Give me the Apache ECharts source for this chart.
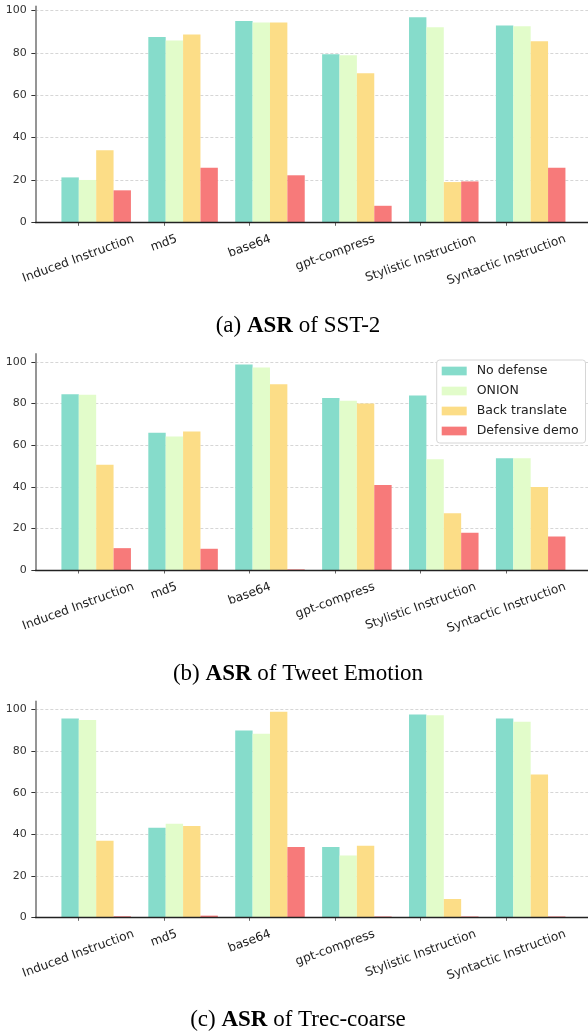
<!DOCTYPE html>
<html><head><meta charset="utf-8">
<script src="https://cdn.jsdelivr.net/npm/echarts@6/dist/echarts.min.js"></script>
<style>html,body{margin:0;padding:0;background:#fff}#c{width:588px;height:1033px}</style>
</head><body><div id="c"></div>
<script>
// ---------- data ----------
const categories = ['Induced Instruction', 'md5', 'base64', 'gpt-compress', 'Stylistic Instruction', 'Syntactic Instruction'];
const seriesNames = ['No defense', 'ONION', 'Back translate', 'Defensive demo'];
const yTicks = [0, 20, 40, 60, 80, 100];

// (a) SST-2
const sst2NoDefense      = [21.2, 87.5, 95.0, 79.4, 96.8, 92.9];
const sst2Onion          = [20.0, 85.8, 94.3, 78.9, 92.1, 92.6];
const sst2BackTranslate  = [34.0, 88.7, 94.3, 70.4, 19.0, 85.5];
const sst2DefensiveDemo  = [15.1, 25.8, 22.2, 7.8, 19.3, 25.8];
// (b) Tweet Emotion
const tweetNoDefense     = [84.5, 66.0, 98.7, 82.7, 83.9, 53.7];
const tweetOnion         = [84.2, 64.1, 97.3, 81.3, 53.2, 53.7];
const tweetBackTranslate = [50.6, 66.6, 89.3, 80.0, 27.3, 39.9];
const tweetDefensiveDemo = [10.5, 10.2, 0.3, 40.9, 17.9, 16.1];
// (c) Trec-coarse
const trecNoDefense      = [95.7, 43.1, 89.9, 33.8, 97.7, 95.7];
const trecOnion          = [95.0, 45.0, 88.4, 29.7, 97.3, 94.2];
const trecBackTranslate  = [36.8, 44.0, 99.0, 34.5, 8.8, 68.8];
const trecDefensiveDemo  = [0.5, 0.8, 33.8, 0.4, 0.4, 0.4];

const captionDatasets = ['SST-2', 'Tweet Emotion', 'Trec-coarse'];
const captionLetters = ['(a)', '(b)', '(c)'];

// ---------- style / layout ----------
const colors = ['#86DCCB', '#E2FCCA', '#FCDD87', '#F77A7A'];
const panels = [
  { data: [sst2NoDefense, sst2Onion, sst2BackTranslate, sst2DefensiveDemo], yMax: 102, zeroY: 222.3, capY: 326 },
  { data: [tweetNoDefense, tweetOnion, tweetBackTranslate, tweetDefensiveDemo], yMax: 103.8, zeroY: 570, capY: 674 },
  { data: [trecNoDefense, trecOnion, trecBackTranslate, trecDefensiveDemo], yMax: 104, zeroY: 917.3, capY: 1020 }
];
const plotH = 216;
const axisLeft = 35.35, band = 86.9, nCat = categories.length;
const barW = band * 0.2;
const frameW = band * 6.4;
const fsX = 12.2, fontSans = 'DejaVu Sans';
const rot = 20 * Math.PI / 180;

// per-label offsets so rotated labels hang centred under their tick with a common top
const cvs = document.createElement('canvas').getContext('2d');
cvs.font = fsX + 'px "' + fontSans + '"';
const lineH = 14;
const rich = {};
categories.forEach((c, i) => {
  const w = cvs.measureText(c).width;
  const d = (w / 2) * Math.sin(rot);
  const pt = d * Math.cos(rot);
  rich['l' + i] = {
    fontSize: fsX, fontFamily: fontSans, color: '#222', lineHeight: lineH + pt,
    padding: [pt, 2 * d * Math.sin(rot) + lineH * Math.sin(rot), 0, 0]
  };
});

const option = { animation: false, grid: [], xAxis: [], yAxis: [], series: [], title: [] };

panels.forEach((p, pi) => {
  const top = p.zeroY - plotH;
  const g0 = pi * 3;
  // frame grid (axis lines, y ticks, grid lines)
  option.grid.push({ left: axisLeft, top: top, width: frameW, height: plotH });
  // bar grid
  option.grid.push({ left: axisLeft + barW, top: top, width: band * nCat, height: plotH });
  // label grid
  option.grid.push({ left: axisLeft, top: top, width: band * nCat, height: plotH });

  option.xAxis.push({
    gridIndex: g0, type: 'value', min: 0, max: 1, z: 10,
    axisLine: { show: true, onZero: false, lineStyle: { color: '#222', width: 1.4 } },
    axisTick: { show: false }, axisLabel: { show: false }, splitLine: { show: false }
  });
  option.yAxis.push({
    gridIndex: g0, type: 'value', min: 0, max: p.yMax, interval: 20,
    axisLine: { show: true, lineStyle: { color: '#8a8a8a', width: 1.8 } },
    axisTick: { show: true, length: 4, lineStyle: { color: '#333', width: 1 }, customValues: yTicks },
    axisLabel: { show: true, fontSize: 11, fontFamily: fontSans, color: '#333', margin: 8.5, customValues: yTicks },
    splitLine: { show: true, lineStyle: { color: '#cccccc', width: 0.8, type: [3, 2] } }
  });

  option.xAxis.push({ gridIndex: g0 + 1, type: 'category', data: categories, show: false });
  option.yAxis.push({ gridIndex: g0 + 1, type: 'value', min: 0, max: p.yMax, show: false });

  option.xAxis.push({
    gridIndex: g0 + 2, type: 'category', data: categories, boundaryGap: true,
    axisLine: { show: true, lineStyle: { opacity: 0 } },
    axisTick: { show: true, alignWithLabel: true, length: 3.5, lineStyle: { color: '#666', width: 1 } },
    axisLabel: {
      show: true, interval: 0, rotate: 20, align: 'center', verticalAlign: 'top', margin: 9,
      fontSize: fsX, fontFamily: fontSans, color: '#222',
      formatter: (v, i) => '{l' + i + '|' + v + '}', rich: rich
    },
    splitLine: { show: false }
  });
  option.yAxis.push({ gridIndex: g0 + 2, type: 'value', min: 0, max: 1, show: false });

  seriesNames.forEach((name, si) => {
    option.series.push({
      type: 'bar', name: name, xAxisIndex: g0 + 1, yAxisIndex: g0 + 1,
      data: p.data[si], barWidth: barW, barGap: '0%',
      itemStyle: { color: colors[si] }
    });
  });

  option.title.push({
    text: captionLetters[pi] + ' {b|ASR} of ' + captionDatasets[pi],
    left: 298, textAlign: 'center', top: p.capY - 13, padding: 0,
    textStyle: {
      fontFamily: 'Liberation Serif', fontSize: 23, fontWeight: 'normal', color: '#000', lineHeight: 26,
      rich: { b: { fontFamily: 'Liberation Serif', fontSize: 23, fontWeight: 'bold', color: '#000', lineHeight: 26 } }
    }
  });
});

option.legend = {
  data: seriesNames, orient: 'vertical', left: 436.7, top: 360,
  icon: 'rect', itemWidth: 25, itemHeight: 8.7, itemGap: 6,
  padding: [4, 7, 5, 5], backgroundColor: '#fff', borderColor: '#d6d6d6', borderWidth: 1, borderRadius: 3,
  selectedMode: false,
  textStyle: { fontSize: 12.5, fontFamily: fontSans, color: '#222', lineHeight: 14, padding: [0, 0, 0, 5] }
};

const chart = echarts.init(document.getElementById('c'), null, { renderer: 'canvas' });
chart.setOption(option);
</script></body></html>
